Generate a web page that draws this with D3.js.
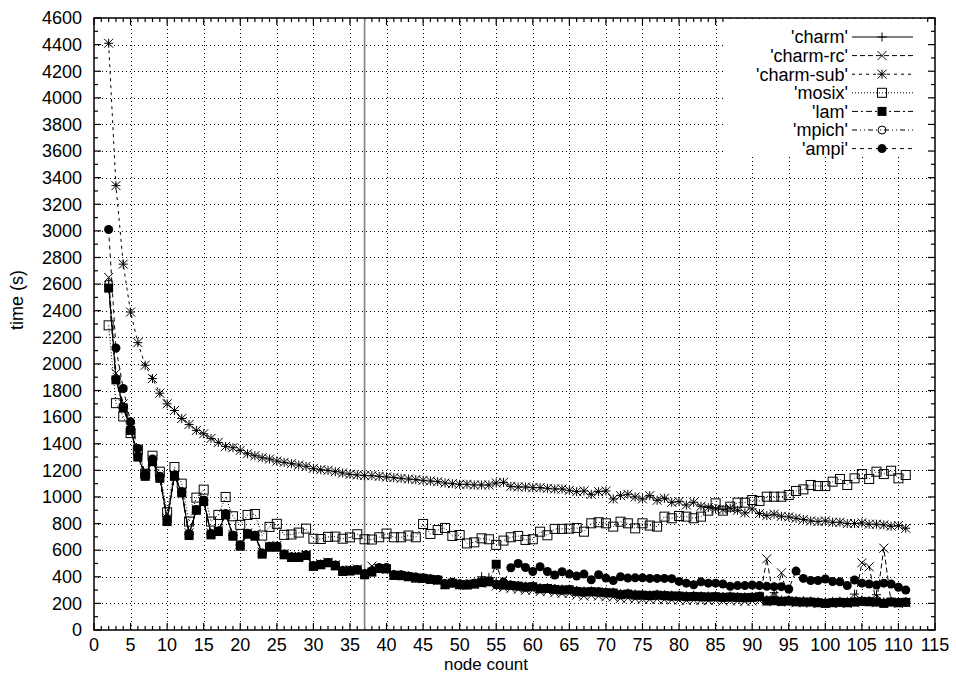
<!DOCTYPE html>
<html>
<head>
<meta charset="utf-8">
<script src="https://cdn.jsdelivr.net/npm/d3@7"></script>
<style>
  html, body { margin: 0; padding: 0; background: #fff; }
  svg { display: block; }
  text { font-family: "Liberation Sans", Arial, Helvetica, sans-serif; fill: #000; }
</style>
</head>
<body>
<svg id="chart" width="956" height="673"></svg>
<script>
// Node counts (x values)
const nodes = [2,3,4,5,6,7,8,9,10,11,12,13,14,15,16,17,18,19,20,21,22,23,24,25,26,27,28,29,30,31,32,33,34,35,36,37,38,39,40,41,42,43,44,45,46,47,48,49,50,51,52,53,54,55,56,57,58,59,60,61,62,63,64,65,66,67,68,69,70,71,72,73,74,75,76,77,78,79,80,81,82,83,84,85,86,87,88,89,90,91,92,93,94,95,96,97,98,99,100,101,102,103,104,105,106,107,108,109,110,111];

// Run times in seconds, one value per node count
const charm = [2590,1890,1680,1510,1310,1160,1270,1150,830,1160,1035,720,905,975,725,745,870,712,640,725,712,578,628,630,572,550,552,565,485,495,508,488,450,450,455,425,445,465,462,418,415,405,398,392,385,380,350,358,348,345,352,400,395,360,345,340,335,330,330,318,318,312,308,308,298,292,295,290,288,285,275,278,270,270,265,270,265,262,262,258,260,256,255,258,252,255,252,250,252,255,228,280,225,228,222,220,218,215,212,215,218,215,270,225,222,265,212,218,215,215];

const charmRc = [2650,1930,1700,1520,1320,1170,1280,1160,840,1170,1040,730,910,980,730,750,875,718,645,730,718,585,632,635,575,552,555,568,490,498,510,490,452,452,458,430,480,460,455,415,410,400,390,385,378,372,345,350,340,338,345,352,355,330,318,312,305,298,300,288,290,280,275,275,262,255,260,255,250,248,238,240,235,232,230,232,228,225,225,222,225,222,220,222,218,220,218,215,218,222,535,212,430,210,205,205,202,200,198,200,202,200,205,505,475,205,615,205,200,205];

const charmSub = [4410,3340,2750,2390,2160,1990,1890,1780,1700,1650,1590,1545,1500,1475,1440,1410,1380,1370,1350,1325,1310,1295,1285,1270,1260,1250,1240,1230,1215,1205,1200,1190,1180,1170,1165,1160,1160,1155,1150,1145,1140,1135,1130,1125,1120,1115,1105,1100,1095,1095,1090,1090,1090,1105,1110,1080,1075,1075,1070,1070,1065,1060,1060,1050,1040,1045,1020,1040,1045,985,1010,1020,1000,985,1010,975,990,960,965,940,960,930,920,910,905,915,900,880,910,875,860,870,855,850,840,830,820,815,820,810,810,800,800,805,795,795,790,780,785,765];

const mosix = [2290,1705,1605,1480,1355,1175,1310,1190,885,1225,1100,815,995,1055,815,865,1000,855,790,865,872,710,775,798,715,718,732,762,686,684,700,702,686,696,720,682,680,697,725,697,697,710,697,797,722,752,767,707,714,651,659,689,682,640,672,697,707,677,682,739,712,760,760,762,767,739,802,810,802,777,814,802,764,802,785,777,852,840,857,852,840,852,897,952,897,927,957,957,977,970,1002,1002,1002,1015,1045,1057,1090,1082,1082,1115,1135,1090,1140,1172,1135,1190,1172,1197,1140,1165];

const lam = [2570,1880,1670,1500,1300,1155,1265,1140,815,1155,1030,710,900,965,715,740,865,705,630,720,705,570,622,622,565,545,545,560,478,490,505,482,440,443,450,415,435,462,460,410,408,400,390,388,380,375,340,352,340,338,345,356,362,494,338,335,330,322,325,310,312,305,300,302,290,285,288,285,280,278,265,270,262,262,258,262,258,255,255,250,252,250,248,250,245,248,245,242,245,250,218,220,215,218,212,210,210,205,200,205,208,205,210,215,212,210,200,210,205,208];

const mpich = [2600,1885,1675,1505,1305,1158,1268,1145,820,1158,1032,715,902,968,718,742,868,708,635,722,708,574,625,625,568,548,548,562,480,492,506,485,445,446,452,420,440,464,461,412,410,402,392,390,382,378,345,355,343,340,348,358,365,345,340,338,332,325,328,312,315,308,302,305,293,288,290,288,282,280,268,272,265,264,260,264,260,258,257,252,255,252,250,252,248,250,247,245,247,252,220,222,218,220,215,212,212,208,203,208,210,208,212,218,215,212,203,212,208,210];

const ampi = [3010,2120,1815,1565,1365,1175,1285,1155,835,1165,1040,725,905,975,725,745,875,712,640,728,712,578,630,630,572,550,550,565,485,495,508,488,448,448,455,425,445,470,470,418,415,405,398,392,385,380,350,358,348,345,352,360,368,340,360,468,500,470,440,475,440,413,438,420,406,420,378,415,390,372,400,390,392,392,388,388,388,386,365,352,340,362,352,352,346,328,334,334,338,334,328,326,326,308,443,388,372,372,383,364,362,334,376,352,346,338,352,346,321,301];

// Axis ticks
const xTicks = [0,5,10,15,20,25,30,35,40,45,50,55,60,65,70,75,80,85,90,95,100,105,110,115];
const yTicks = [0,200,400,600,800,1000,1200,1400,1600,1800,2000,2200,2400,2600,2800,3000,3200,3400,3600,3800,4000,4200,4400,4600];
const markerLine = [37];

const seriesNames = ["'charm'","'charm-rc'","'charm-sub'","'mosix'","'lam'","'mpich'","'ampi'"];
const seriesValues = [charm, charmRc, charmSub, mosix, lam, mpich, ampi];
const seriesStyle = [
  { dash: null,            sym: "plus" },
  { dash: "5,3",           sym: "cross" },
  { dash: "3,4",           sym: "star" },
  { dash: "1,2",           sym: "square" },
  { dash: "6,3,2,3",       sym: "fsquare" },
  { dash: "5,3,1,3,1,3",   sym: "circle" },
  { dash: "4,4",           sym: "fcircle" }
];

const svg = d3.select("#chart");
const plotL = 94, plotR = 935, plotT = 18, plotB = 630;
const x = d3.scaleLinear().domain([0, 115]).range([plotL, plotR]);
const y = d3.scaleLinear().domain([0, 4600]).range([plotB, plotT]);
const fontSize = "18px";

// Legend background region (grid hidden behind it)
const legBox = { x0: 725, y1: 157 };

// Grid: dotted lines at major ticks
const grid = svg.append("g").attr("stroke", "#000").attr("stroke-width", 1).attr("stroke-dasharray", "1,3");
xTicks.slice(1, -1).forEach(t => {
  const px = Math.round(x(t)) + 0.5;
  const y0 = px > legBox.x0 ? legBox.y1 : plotT;
  grid.append("line").attr("x1", px).attr("x2", px).attr("y1", plotB).attr("y2", y0);
});
yTicks.slice(1, -1).forEach(t => {
  const py = Math.round(y(t)) + 0.5;
  const x1 = py < legBox.y1 ? legBox.x0 : plotR;
  grid.append("line").attr("x1", plotL).attr("x2", x1).attr("y1", py).attr("y2", py);
});

// Tick marks on all four sides, pointing inward
const ticks = svg.append("g").attr("stroke", "#000").attr("stroke-width", 1.2);
d3.range(0, 116, 1).forEach(t => {
  const len = t % 5 === 0 ? 7 : 4;
  const px = x(t);
  ticks.append("line").attr("x1", px).attr("x2", px).attr("y1", plotB).attr("y2", plotB - len);
  ticks.append("line").attr("x1", px).attr("x2", px).attr("y1", plotT).attr("y2", plotT + len);
});
d3.range(0, 4601, 100).forEach(t => {
  const len = t % 200 === 0 ? 7 : 4;
  const py = y(t);
  ticks.append("line").attr("x1", plotL).attr("x2", plotL + len).attr("y1", py).attr("y2", py);
  ticks.append("line").attr("x1", plotR).attr("x2", plotR - len).attr("y1", py).attr("y2", py);
});

// Vertical reference line
svg.append("g").selectAll("line").data(markerLine).join("line")
  .attr("x1", d => x(d)).attr("x2", d => x(d))
  .attr("y1", plotT).attr("y2", plotB)
  .attr("stroke", "#808080").attr("stroke-width", 1.6);

// Symbols
function drawSymbol(g, type, cx, cy) {
  const s = 4.5;
  switch (type) {
    case "plus":
      g.append("path").attr("d", `M${cx - s},${cy}H${cx + s}M${cx},${cy - s}V${cy + s}`)
        .attr("stroke", "#000").attr("stroke-width", 1).attr("fill", "none");
      break;
    case "cross":
      g.append("path").attr("d", `M${cx - s},${cy - s}L${cx + s},${cy + s}M${cx - s},${cy + s}L${cx + s},${cy - s}`)
        .attr("stroke", "#000").attr("stroke-width", 1).attr("fill", "none");
      break;
    case "star":
      g.append("path").attr("d", `M${cx - s},${cy}H${cx + s}M${cx},${cy - s}V${cy + s}M${cx - s},${cy - s}L${cx + s},${cy + s}M${cx - s},${cy + s}L${cx + s},${cy - s}`)
        .attr("stroke", "#000").attr("stroke-width", 1).attr("fill", "none");
      break;
    case "square":
      g.append("rect").attr("x", cx - s).attr("y", cy - s).attr("width", 2 * s).attr("height", 2 * s)
        .attr("stroke", "#000").attr("stroke-width", 1).attr("fill", "none");
      break;
    case "fsquare":
      g.append("rect").attr("x", cx - s).attr("y", cy - s).attr("width", 2 * s).attr("height", 2 * s)
        .attr("fill", "#000");
      break;
    case "circle":
      g.append("circle").attr("cx", cx).attr("cy", cy).attr("r", 4)
        .attr("stroke", "#000").attr("stroke-width", 1).attr("fill", "none");
      break;
    case "fcircle":
      g.append("circle").attr("cx", cx).attr("cy", cy).attr("r", 4.5).attr("fill", "#000");
      break;
  }
}

// Series: line then points
const line = d3.line().x(d => x(d[0])).y(d => y(d[1]));
seriesValues.forEach((vals, i) => {
  const pts = nodes.map((n, j) => [n, vals[j]]);
  const g = svg.append("g");
  g.append("path").datum(pts).attr("d", line)
    .attr("fill", "none").attr("stroke", "#000").attr("stroke-width", 1)
    .attr("stroke-dasharray", seriesStyle[i].dash);
  pts.forEach(p => drawSymbol(g, seriesStyle[i].sym, x(p[0]), y(p[1])));
});

// Legend
const legend = svg.append("g");
legend.append("rect").attr("x", legBox.x0).attr("y", plotT + 1).attr("width", plotR - legBox.x0 - 8).attr("height", legBox.y1 - plotT - 1).attr("fill", "#fff");
seriesNames.forEach((name, i) => {
  const ly = 37 + i * 18.6;
  legend.append("text").attr("x", 848).attr("y", ly).attr("dy", "0.35em")
    .attr("text-anchor", "end").style("font-size", fontSize).text(name);
  legend.append("line").attr("x1", 852).attr("x2", 913).attr("y1", ly).attr("y2", ly)
    .attr("stroke", "#000").attr("stroke-width", 1).attr("stroke-dasharray", seriesStyle[i].dash);
  drawSymbol(legend, seriesStyle[i].sym, 882, ly);
});

// Frame
svg.append("rect").attr("x", plotL).attr("y", plotT).attr("width", plotR - plotL).attr("height", plotB - plotT)
  .attr("fill", "none").attr("stroke", "#000").attr("stroke-width", 1.5);

// Tick labels
svg.append("g").selectAll("text").data(yTicks).join("text")
  .attr("x", 82).attr("y", d => y(d)).attr("dy", "0.35em")
  .attr("text-anchor", "end").style("font-size", fontSize).text(d => d);
svg.append("g").selectAll("text").data(xTicks).join("text")
  .attr("x", d => x(d)).attr("y", 651)
  .attr("text-anchor", "middle").style("font-size", fontSize).text(d => d);

// Axis titles
svg.append("text").attr("transform", "translate(23,300) rotate(-90)")
  .attr("text-anchor", "middle").style("font-size", fontSize).text("time (s)");
svg.append("text").attr("x", 486).attr("y", 669.5)
  .attr("text-anchor", "middle").style("font-size", "17px").text("node count");
</script>
</body>
</html>
